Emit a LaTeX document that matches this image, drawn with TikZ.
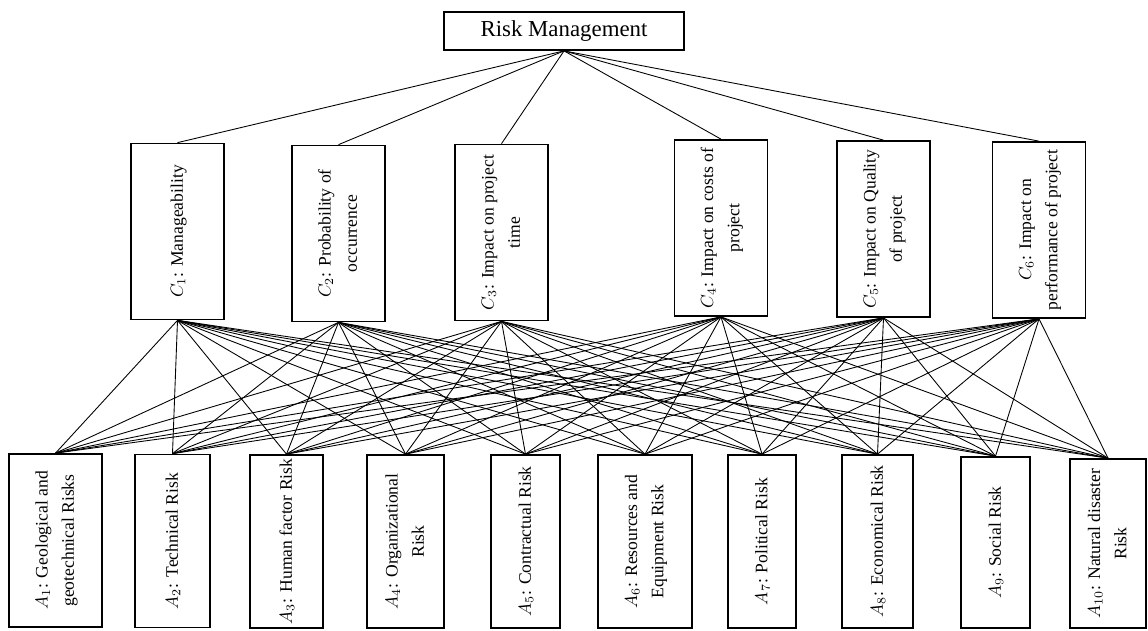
\documentclass[tikz,border=0pt]{standalone}
\usepackage{fontspec}
\setmainfont{Liberation Serif}
\usepackage{xcolor}
\usepackage{tikz}

% rotated text block, read from bottom to top
\newcommand{\vtext}[1]{\rotatebox{90}{\fontsize{10}{15}\selectfont\begin{tabular}{@{}c@{}}#1\end{tabular}}}

\tikzset{
  box/.style={draw, line width=1pt, inner sep=0pt},
  crit/.style={box, minimum width=1.86cm, minimum height=3.52cm},
  alt/.style={box, minimum height=3.46cm},
  link/.style={line width=0.5pt}
}

\begin{document}
\begin{tikzpicture}[x=0.02cm, y=-0.02cm]
    \useasboundingbox (0,0) rectangle (1148,630);

    % Goal
    \node[box, minimum width=4.8cm, minimum height=0.76cm, font=\fontsize{13}{15}\selectfont] (goal) at (564,31) {Risk Management};

    % Criteria
    \node[crit] (C1) at (177.5,231.5) {\vtext{$C_1$: Manageability}};
    \node[crit] (C2) at (338.5,233.5) {\vtext{$C_2$: Probability of\\occurrence}};
    \node[crit] (C3) at (501.5,232.5) {\vtext{$C_3$: Impact on project\\time}};
    \node[crit] (C4) at (721,228) {\vtext{$C_4$: Impact on costs of\\project}};
    \node[crit] (C5) at (883.5,229) {\vtext{$C_5$: Impact on Quality\\of project}};
    \node[crit] (C6) at (1039,230) {\vtext{$C_6$: Impact on\\performance of project}};

    % Alternatives
    \node[alt, minimum width=1.86cm] (A1) at (55.5,540.5) {\vtext{$A_1$: Geological and\\geotechnical Risks}};
    \node[alt, minimum width=1.5cm] (A2) at (172.5,541) {\vtext{$A_2$: Technical Risk}};
    \node[alt, minimum width=1.46cm] (A3) at (286.5,541.5) {\vtext{$A_3$: Human factor Risk}};
    \node[alt, minimum width=1.54cm] (A4) at (405.5,541.5) {\vtext{$A_4$: Organizational\\Risk}};
    \node[alt, minimum width=1.38cm] (A5) at (525.5,541.5) {\vtext{$A_5$: Contractual Risk}};
    \node[alt, minimum width=1.88cm] (A6) at (645,541.5) {\vtext{$A_6$: Resources and\\Equipment Risk}};
    \node[alt, minimum width=1.36cm] (A7) at (762,541.5) {\vtext{$A_7$: Political Risk}};
    \node[alt, minimum width=1.42cm] (A8) at (877.5,541.5) {\vtext{$A_8$: Economical Risk}};
    \node[alt, minimum width=1.38cm, minimum height=3.42cm] (A9) at (995.5,542.5) {\vtext{$A_9$: Social Risk}};
    \node[alt, minimum width=1.52cm, minimum height=3.38cm] (A10) at (1108,543.5) {\vtext{$A_{10}$: Natural disaster\\Risk}};

    % Goal to criteria
    \foreach \c in {1,...,6}
        \draw[link] (goal.south) -- (C\c.north);

    % Criteria to alternatives
    \foreach \c in {1,...,6}
        \foreach \a in {1,...,10}
            \draw[link] (C\c.south) -- (A\a.north);
\end{tikzpicture}
\end{document}
